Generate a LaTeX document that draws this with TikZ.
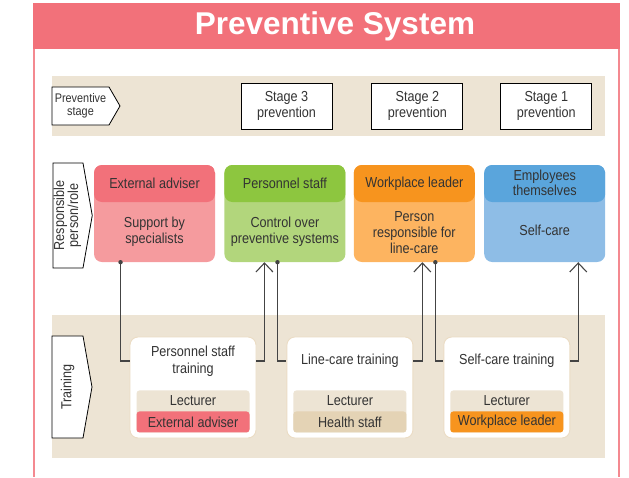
\documentclass[tikz,border=0pt]{standalone}
\usepackage{fontspec}
\setmainfont{Liberation Sans}[FakeStretch=0.87]
\newfontfamily\headfont{Liberation Sans}
\usetikzlibrary{arrows.meta,positioning,shapes.symbols,calc}

\definecolor{headred}{HTML}{F2717A}
\definecolor{framered}{HTML}{F48990}
\definecolor{bandtan}{HTML}{EDE4D4}
\definecolor{darktan}{HTML}{E4D3B5}
\definecolor{edgetan}{HTML}{EBDCC4}
\definecolor{textgray}{HTML}{333333}
\definecolor{linegray}{HTML}{444444}
\definecolor{redhd}{HTML}{F2717A}
\definecolor{redlt}{HTML}{F59B9E}
\definecolor{greenhd}{HTML}{8DC63F}
\definecolor{greenlt}{HTML}{B2D67C}
\definecolor{orangehd}{HTML}{F7941E}
\definecolor{orangelt}{HTML}{FDB460}
\definecolor{bluehd}{HTML}{5AA5DC}
\definecolor{bluelt}{HTML}{8EBDE6}

\begin{document}
\begin{tikzpicture}[x=1pt, y=-1pt,
  txt/.style={font=\fontsize{14.5}{16}\selectfont, text=textgray, align=center},
  tag/.style={signal, signal to=east, draw, line width=0.8pt, fill=white, inner sep=0pt, txt},
  band/.style={fill=bandtan, inner sep=0pt, minimum width=553pt},
  stagebox/.style={draw, line width=0.9pt, fill=white, minimum width=91pt, minimum height=46pt, txt},
  rolebox/.style 2 args={rounded corners=8pt, fill=#2, minimum width=121pt, minimum height=97pt,
    path picture={\fill[#1] (path picture bounding box.north west) rectangle ([yshift=-37pt]path picture bounding box.north east);}},
  trainbox/.style={draw=edgetan, line width=0.9pt, fill=white, rounded corners=8pt, minimum width=126pt, minimum height=101pt},
  lectband/.style={fill=#1, rounded corners=3pt, minimum width=113pt, inner sep=0pt, txt},
  link/.style={draw=linegray, line width=1.1pt},
  uplink/.style={link, -{Straight Barb[length=9pt, width=17pt, line width=1.1pt]}},
  dot/.style={fill=linegray}
]
\useasboundingbox (0,0) rectangle (629,477);

% frame and title
\draw[framered, line width=1.5pt] (34,3) -- (34,477) (619,3) -- (619,477);
\node[fill=headred, minimum width=587pt, minimum height=46pt, inner sep=0pt] (head) at (326.5,26) {};
\node[font=\headfont\bfseries\fontsize{31.5}{34}\selectfont, text=white] (titletext) at (335,26) {Preventive System};

% background bands
\node[band, minimum height=60pt] (stageband) at (328.5,106) {};
\node[band, minimum height=143pt] (trainband) at (328.5,386.5) {};

% row labels
\node[tag, minimum width=68pt, minimum height=38pt, signal pointer angle=120, font=\fontsize{12.5}{13}\selectfont] (stagetag) at (80.5,106) {Preventive\\stage};
\node[tag, minimum width=39pt, minimum height=105pt, signal pointer angle=160] (roletag) at (68,215.5) {\rotatebox{90}{\begin{tabular}{@{}c@{}}Responsible\\[-2pt]person/role\end{tabular}}};
\node[tag, minimum width=40pt, minimum height=102pt, signal pointer angle=160] (traintag) at (67.5,387) {\rotatebox{90}{Training}};

% stages
\node[stagebox] (stage3) at (286.5,106) {Stage 3\\prevention};
\node[stagebox, right=39pt of stage3] (stage2) {Stage 2\\prevention};
\node[stagebox, right=37pt of stage2] (stage1) {Stage 1\\prevention};

% responsible persons
\node[rolebox={redhd}{redlt}] (adviser) at (154.5,213.5) {};
\node[rolebox={greenhd}{greenlt}, right=9pt of adviser] (staff) {};
\node[rolebox={orangehd}{orangelt}, right=8pt of staff] (leader) {};
\node[rolebox={bluehd}{bluelt}, right=9pt of leader] (employees) {};
\node[txt] (adviserhd) at ($(adviser.north)+(0,18.5)$) {External adviser};
\node[txt] (adviserbd) at ($(adviser.south)+(0,-30)$) {Support by\\specialists};
\node[txt] (staffhd) at ($(staff.north)+(0,18.5)$) {Personnel staff};
\node[txt] (staffbd) at ($(staff.south)+(0,-30)$) {Control over\\preventive systems};
\node[txt] (leaderhd) at ($(leader.north)+(0,18.5)$) {Workplace leader};
\node[txt] (leaderbd) at ($(leader.south)+(0,-30)$) {Person\\responsible for\\line-care};
\node[txt, font=\fontsize{14.5}{15}\selectfont] (employeeshd) at ($(employees.north)+(0,18.5)$) {Employees\\themselves};
\node[txt] (employeesbd) at ($(employees.south)+(0,-32)$) {Self-care};

% training
\node[trainbox] (ptrain) at (193,387.5) {};
\node[trainbox, right=30pt of ptrain] (ltrain) {};
\node[trainbox, right=30pt of ltrain] (strain) {};
\node[txt, font=\fontsize{14.5}{17}\selectfont] (ptraintx) at ($(ptrain.north)+(0,25)$) {Personnel staff\\training};
\node[txt] (ltraintx) at ($(ltrain.north)+(0,24)$) {Line-care training};
\node[txt] (straintx) at ($(strain.north)+(0,24)$) {Self-care training};
\foreach \t/\c/\w in {ptrain/redhd/External adviser, ltrain/darktan/Health staff, strain/orangehd/Workplace leader}{
  \node[lectband=bandtan, minimum height=42pt] (\t lect) at ($(\t.south)+(0,-27)$) {};
  \node[txt] (\t lecttx) at ($(\t.south)+(0,-37.5)$) {Lecturer};
  \node[lectband=\c, minimum height=21pt] (\t who) at ($(\t.south)+(0,-16.5)$) {\w};
}

% connectors
\coordinate (d1) at ($(ptrain.west |- adviser.south)+(-9,0)$);
\coordinate (u1) at ($(ptrain.east |- staff.south)+(8,0)$);
\coordinate (d2) at ($(ltrain.west |- staff.south)+(-9,0)$);
\coordinate (u2) at ($(ltrain.east |- leader.south)+(9,0)$);
\coordinate (d3) at ($(strain.west |- leader.south)+(-8,0)$);
\coordinate (u3) at ($(strain.east |- employees.south)+(8,0)$);
\draw[link] (d1) |- ($(ptrain.west)+(0,-26.5)$);
\draw[uplink] ($(ptrain.east)+(0,-26.5)$) -| (u1);
\draw[link] (d2) |- ($(ltrain.west)+(0,-26.5)$);
\draw[uplink] ($(ltrain.east)+(0,-26.5)$) -| (u2);
\draw[link] (d3) |- ($(strain.west)+(0,-26.5)$);
\draw[uplink] ($(strain.east)+(0,-26.5)$) -| (u3);
\foreach \d in {d1,d2,d3}
  \fill[dot] (\d) circle (2.2pt);
\end{tikzpicture}
\end{document}
